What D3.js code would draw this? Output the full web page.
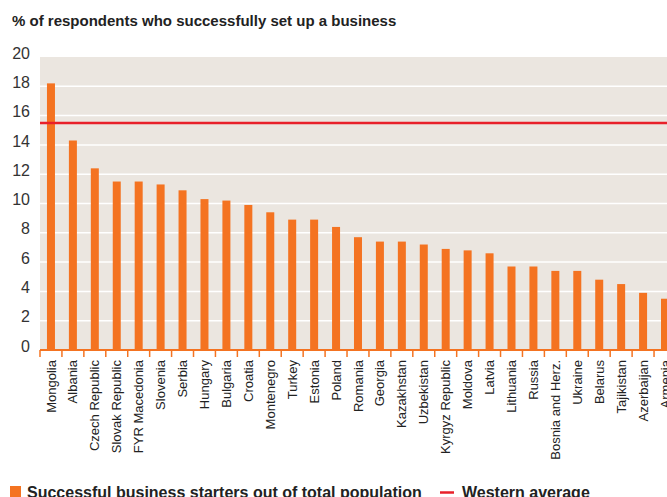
<!DOCTYPE html>
<html>
<head>
<meta charset="utf-8">
<script src="https://cdn.jsdelivr.net/npm/d3@7"></script>
<style>
	body { margin:0; background:#fff; }
	text { font-family:"Liberation Sans", Arial, sans-serif; }
</style>
</head>
<body>
<script>
var paises = ['Mongolia','Albania','Czech Republic','Slovak Republic','FYR Macedonia','Slovenia','Serbia','Hungary','Bulgaria','Croatia','Montenegro','Turkey','Estonia','Poland','Romania','Georgia','Kazakhstan','Uzbekistan','Kyrgyz Republic','Moldova','Latvia','Lithuania','Russia','Bosnia and Herz.','Ukraine','Belarus','Tajikistan','Azerbaijan','Armenia']
var valores = [18.2,14.3,12.4,11.5,11.5,11.3,10.9,10.3,10.2,9.9,9.4,8.9,8.9,8.4,7.7,7.4,7.4,7.2,6.9,6.8,6.6,5.7,5.7,5.4,5.4,4.8,4.5,3.9,3.5]
var promedioOeste = 15.5
var ticksY = [0,2,4,6,8,10,12,14,16,18,20]

var titulo = '% of respondents who successfully set up a business'
var leyenda = ['Successful business starters out of total population','Western average']

var width = 667,
	height = 497,
	margin = {top:57, left:40, bottom:147};

var datos = paises.map((p,i)=>({pais:p, valor:valores[i]}))

var svg = d3.select('body')
	.append('svg')
	.attr('width',width)
	.attr('height',height)

// the band runs past the right edge, Armenia is cut like in the original
var escalaX = d3.scaleBand()
	.domain(paises)
	.range([margin.left,margin.left+paises.length*21.93])

var escalaY = d3.scaleLinear()
	.domain([0,20])
	.range([height-margin.bottom,margin.top])

svg.append('rect')
	.attr('x',margin.left)
	.attr('y',escalaY(20))
	.attr('width',width-margin.left)
	.attr('height',escalaY(0)-escalaY(20))
	.attr('fill','#ebe6e0')

svg.append('g')
	.selectAll('line')
	.data(ticksY.filter(d=>d>0 && d<20)).enter()
	.append('line')
	.attr('x1',margin.left)
	.attr('x2',width)
	.attr('y1',d=>escalaY(d))
	.attr('y2',d=>escalaY(d))
	.attr('stroke','#fff')
	.attr('stroke-width',1.5)

svg.append('g')
	.selectAll('text')
	.data(ticksY).enter()
	.append('text')
	.attr('x',30)
	.attr('y',d=>escalaY(d)-4)
	.attr('dy','0.35em')
	.attr('text-anchor','end')
	.attr('font-size',16)
	.attr('fill','#333')
	.text(d=>d)

svg.append('g')
	.selectAll('rect')
	.data(datos).enter()
	.append('rect')
	.attr('x',d=>escalaX(d.pais)+escalaX.bandwidth()/2-4)
	.attr('width',8)
	.attr('y',d=>escalaY(d.valor))
	.attr('height',d=>escalaY(0)-escalaY(d.valor))
	.attr('fill','#f47321')

// eje x: linea naranja con ticks entre bandas
var ejeX = svg.append('g')
	.attr('transform','translate(0,'+escalaY(0)+')')

ejeX.append('line')
	.attr('x1',margin.left)
	.attr('x2',width)
	.attr('stroke','#f47321')
	.attr('stroke-width',2)

ejeX.selectAll('.tick')
	.data(paises).enter()
	.append('line')
	.attr('class','tick')
	.attr('x1',d=>escalaX(d))
	.attr('x2',d=>escalaX(d))
	.attr('y1',0)
	.attr('y2',7)
	.attr('stroke','#f47321')
	.attr('stroke-width',1.5)

ejeX.selectAll('.lab')
	.data(paises).enter()
	.append('text')
	.attr('class','lab')
	.attr('transform',d=>'translate('+(escalaX(d)+escalaX.bandwidth()/2)+',10) rotate(-90)')
	.attr('dy','0.35em')
	.attr('text-anchor','end')
	.attr('font-size',13)
	.attr('fill','#222')
	.text(d=>d)

svg.append('line')
	.attr('x1',margin.left)
	.attr('x2',width)
	.attr('y1',escalaY(promedioOeste))
	.attr('y2',escalaY(promedioOeste))
	.attr('stroke','#e8202a')
	.attr('stroke-width',2.5)

svg.append('text')
	.attr('x',12)
	.attr('y',26)
	.attr('font-size',15)
	.attr('font-weight','bold')
	.attr('fill','#222')
	.text(titulo)

// leyenda
svg.append('rect')
	.attr('x',10)
	.attr('y',486)
	.attr('width',11)
	.attr('height',11)
	.attr('fill','#f47321')

svg.append('text')
	.attr('x',27)
	.attr('y',498)
	.attr('font-size',16)
	.attr('font-weight','bold')
	.attr('fill','#222')
	.text(leyenda[0])

svg.append('line')
	.attr('x1',440)
	.attr('x2',454)
	.attr('y1',492.5)
	.attr('y2',492.5)
	.attr('stroke','#e8202a')
	.attr('stroke-width',2.5)

svg.append('text')
	.attr('x',462)
	.attr('y',498)
	.attr('font-size',16)
	.attr('font-weight','bold')
	.attr('fill','#222')
	.text(leyenda[1])
</script>
</body>
</html>
